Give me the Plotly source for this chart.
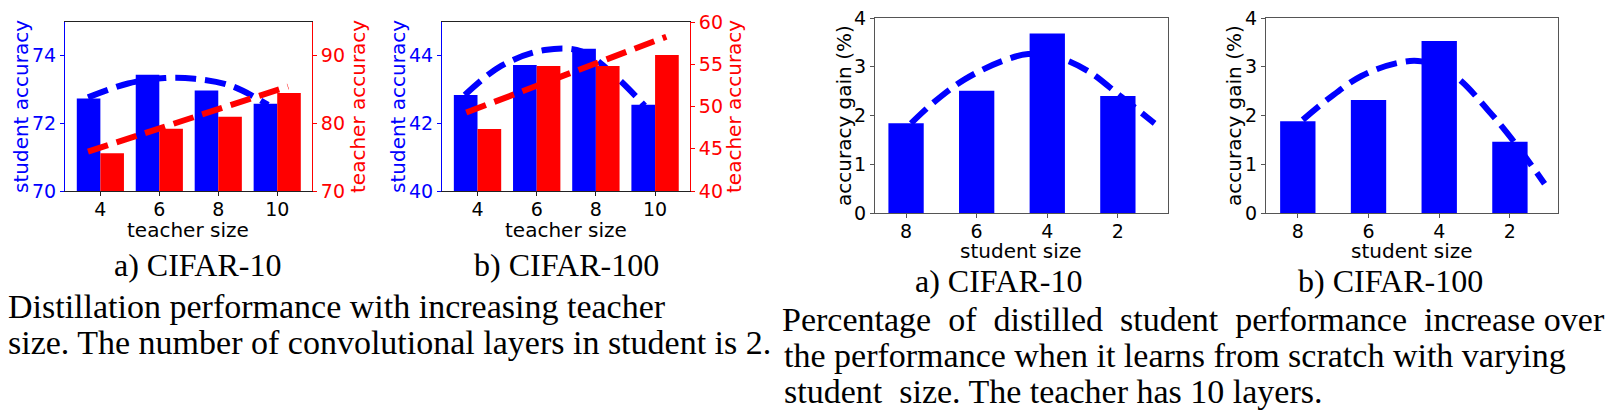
import plotly.graph_objects as go

W, H = 1620, 413
BLUE = "#0000ff"
RED = "#ff0000"

# teacher size experiment (left figure)
teacher_sizes = [4, 6, 8, 10]
c10_student_acc = [72.74, 73.44, 72.97, 72.58]
c10_teacher_acc = [75.6, 79.2, 81.0, 84.5]
c100_student_acc = [42.84, 43.73, 44.21, 42.55]
c100_teacher_acc = [47.35, 54.8, 54.8, 56.1]

# dashed trend lines
c10_student_trend_x = [3.58, 4.94, 6.18, 7.20, 8.44, 9.69]
c10_student_trend_y = [72.77, 73.18, 73.34, 73.32, 73.11, 72.55]
c10_teacher_trend_x = [3.58, 10.37]
c10_teacher_trend_y = [75.83, 85.46]
c100_student_trend_x = [3.57, 4.80, 6.27, 7.51, 8.64, 9.65]
c100_student_trend_y = [42.84, 43.70, 44.17, 44.13, 43.41, 42.52]
c100_teacher_trend_x = [3.62, 10.38]
c100_teacher_trend_y = [49.29, 58.26]

# student size experiment (right figure)
student_sizes = ["8", "6", "4", "2"]
c10_gain = [1.84, 2.51, 3.68, 2.40]
c100_gain = [1.88, 2.32, 3.53, 1.46]
c10_gain_trend_x = [0.07, 0.40, 0.83, 1.35, 1.73, 2.11, 2.58, 3.05, 3.52]
c10_gain_trend_y = [1.84, 2.28, 2.74, 3.11, 3.26, 3.21, 2.91, 2.38, 1.84]
c100_gain_trend_x = [0.07, 0.43, 0.90, 1.42, 1.75, 2.22, 2.69, 3.07, 3.49]
c100_gain_trend_y = [1.91, 2.34, 2.81, 3.08, 3.11, 2.81, 2.11, 1.44, 0.60]


def px(x):
    return x / W


def py(y):
    return 1 - y / H


dash = dict(dash="21px,9px", width=6)
fig = go.Figure()

# a) CIFAR-10 teacher
fig.add_trace(go.Bar(x=teacher_sizes, y=c10_student_acc, width=0.8, offset=-0.8,
                     marker=dict(color=BLUE, line_width=0), xaxis="x", yaxis="y"))
fig.add_trace(go.Bar(x=teacher_sizes, y=c10_teacher_acc, width=0.8, offset=0,
                     marker=dict(color=RED, line_width=0), xaxis="x", yaxis="y2"))
fig.add_trace(go.Scatter(x=c10_student_trend_x, y=c10_student_trend_y, mode="lines",
                         line=dict(color=BLUE, shape="spline", **dash), xaxis="x", yaxis="y"))
fig.add_trace(go.Scatter(x=c10_teacher_trend_x, y=c10_teacher_trend_y, mode="lines",
                         line=dict(color=RED, **dash), xaxis="x", yaxis="y2"))

# b) CIFAR-100 teacher
fig.add_trace(go.Bar(x=teacher_sizes, y=c100_student_acc, width=0.8, offset=-0.8,
                     marker=dict(color=BLUE, line_width=0), xaxis="x2", yaxis="y3"))
fig.add_trace(go.Bar(x=teacher_sizes, y=c100_teacher_acc, width=0.8, offset=0,
                     marker=dict(color=RED, line_width=0), xaxis="x2", yaxis="y4"))
fig.add_trace(go.Scatter(x=c100_student_trend_x, y=c100_student_trend_y, mode="lines",
                         line=dict(color=BLUE, shape="spline", **dash), xaxis="x2", yaxis="y3"))
fig.add_trace(go.Scatter(x=c100_teacher_trend_x, y=c100_teacher_trend_y, mode="lines",
                         line=dict(color=RED, **dash), xaxis="x2", yaxis="y4"))

# a) CIFAR-10 / b) CIFAR-100 student
idx = list(range(len(student_sizes)))
fig.add_trace(go.Bar(x=idx, y=c10_gain, width=0.5, marker=dict(color=BLUE, line_width=0),
                     xaxis="x3", yaxis="y5"))
fig.add_trace(go.Scatter(x=c10_gain_trend_x, y=c10_gain_trend_y, mode="lines",
                         line=dict(color=BLUE, shape="spline", **dash), xaxis="x3", yaxis="y5"))
fig.add_trace(go.Bar(x=idx, y=c100_gain, width=0.5, marker=dict(color=BLUE, line_width=0),
                     xaxis="x4", yaxis="y6"))
fig.add_trace(go.Scatter(x=c100_gain_trend_x, y=c100_gain_trend_y, mode="lines",
                         line=dict(color=BLUE, shape="spline", **dash), xaxis="x4", yaxis="y6"))

tick_font = dict(family="DejaVu Sans", size=19, color="black")
base_ax = dict(showgrid=False, zeroline=False, showline=True, ticks="outside", ticklen=4,
               tickfont=tick_font, fixedrange=True, automargin=False,
               ticklabeloverflow="allow")
x_ax = dict(base_ax, ticklabelstandoff=-3)

top_lr = [py(183), py(14)]
top_st = [py(205), py(10)]

fig.update_layout(
    width=W, height=H,
    margin=dict(l=0, r=0, t=0, b=0),
    plot_bgcolor="white", paper_bgcolor="white",
    showlegend=False, barmode="overlay",
    font=dict(family="DejaVu Sans", color="black"),
    xaxis=dict(x_ax, domain=[px(57), px(304)], anchor="y", range=[2.8, 11.18],
               tickvals=teacher_sizes, mirror=True, linecolor="#222", tickcolor="#222"),
    yaxis=dict(base_ax, domain=top_lr, anchor="x", range=[70, 75], tickvals=[70, 72, 74],
               linecolor=BLUE, tickcolor=BLUE, tickfont=dict(tick_font, color=BLUE)),
    yaxis2=dict(base_ax, overlaying="y", side="right", anchor="x", range=[70, 95],
                tickvals=[70, 80, 90], linecolor=RED, tickcolor=RED,
                tickfont=dict(tick_font, color=RED)),
    xaxis2=dict(x_ax, domain=[px(434), px(682)], anchor="y3", range=[2.8, 11.18],
                tickvals=teacher_sizes, mirror=True, linecolor="#222", tickcolor="#222"),
    yaxis3=dict(base_ax, domain=top_lr, anchor="x2", range=[40, 45], tickvals=[40, 42, 44],
                linecolor=BLUE, tickcolor=BLUE, tickfont=dict(tick_font, color=BLUE)),
    yaxis4=dict(base_ax, overlaying="y3", side="right", anchor="x2", range=[40, 60],
                tickvals=[40, 45, 50, 55, 60], linecolor=RED, tickcolor=RED,
                tickfont=dict(tick_font, color=RED)),
    xaxis3=dict(x_ax, domain=[px(867), px(1160)], anchor="y5", range=[-0.44, 3.71],
                tickvals=idx, ticktext=student_sizes, mirror=True, linecolor="#555",
                tickcolor="#555"),
    yaxis5=dict(base_ax, domain=top_st, anchor="x3", range=[0, 4], dtick=1, mirror=True,
                linecolor="#555", tickcolor="#555"),
    xaxis4=dict(x_ax, domain=[px(1258), px(1550)], anchor="y6", range=[-0.45, 3.68],
                tickvals=idx, ticktext=student_sizes, mirror=True, linecolor="#555",
                tickcolor="#555"),
    yaxis6=dict(base_ax, domain=top_st, anchor="x4", range=[0, 4], dtick=1, mirror=True,
                linecolor="#555", tickcolor="#555"),
)

# axis titles: text, x, y, angle, colour
axis_titles = [
    ("student accuracy", 13, 99, -90, BLUE),
    ("teacher accuracy", 350, 99, -90, RED),
    ("teacher size", 180, 222, 0, "black"),
    ("student accuracy", 390, 99, -90, BLUE),
    ("teacher accuracy", 726, 99, -90, RED),
    ("teacher size", 558, 222, 0, "black"),
    ("accuracy gain (%)", 836, 108, -90, "black"),
    ("student size", 1013, 243, 0, "black"),
    ("accuracy gain (%)", 1226, 108, -90, "black"),
    ("student size", 1404, 243, 0, "black"),
]
for text, x, y, angle, color in axis_titles:
    fig.add_annotation(text=text, x=px(x), y=py(y), xref="paper", yref="paper",
                       xanchor="center", yanchor="middle", showarrow=False, textangle=angle,
                       font=dict(family="DejaVu Sans", size=20, color=color))

sp = "\u00a0 "
sub_font = dict(family="Liberation Serif", size=32, color="black")
body_font = dict(family="Liberation Serif", size=34, color="black")
captions = [
    ("a) CIFAR-10", 189, 257, "center", sub_font),
    ("b) CIFAR-100", 558, 257, "center", sub_font),
    ("Distillation performance with increasing teacher", -2, 298, "left", body_font),
    ("size. The number of convolutional layers in student is 2.", -2, 334, "left", body_font),
    ("a) CIFAR-10", 990, 273, "center", sub_font),
    ("b) CIFAR-100", 1382, 273, "center", sub_font),
    ("Percentage" + sp + "of" + sp + "distilled" + sp + "student" + sp + "performance" + sp
     + "increase over", 772, 311, "left", body_font),
    ("the performance when it learns from scratch with varying", 774, 347, "left", body_font),
    ("student" + sp + "size. The teacher has 10 layers.", 774, 383, "left", body_font),
]
for text, x, y, anchor, f in captions:
    fig.add_annotation(text=text, x=px(x), y=py(y), xref="paper", yref="paper",
                       xanchor=anchor, yanchor="middle", showarrow=False, font=f)

fig.write_html("out.html")
